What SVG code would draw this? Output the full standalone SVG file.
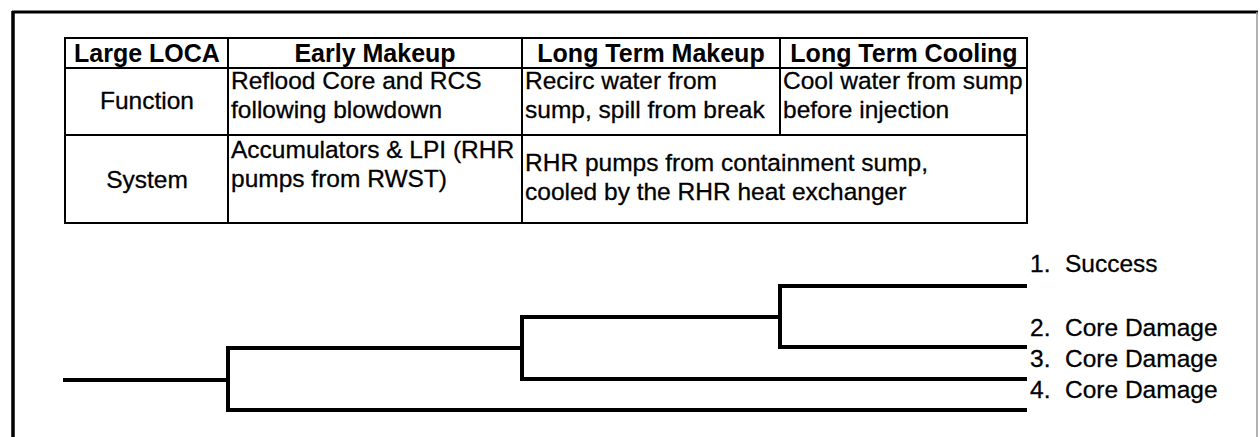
<svg xmlns="http://www.w3.org/2000/svg" width="1260" height="437" viewBox="0 0 1260 437">
<style>
.t{font-family:"Liberation Sans",Arial,sans-serif;font-size:24.5px;fill:#000;stroke:#000;stroke-width:0.3}
.h{font-family:"Liberation Sans",Arial,sans-serif;font-size:25px;font-weight:bold;fill:#000}
.c{text-anchor:middle}
.g{fill:none;stroke:#000;stroke-width:2}
.b{fill:none;stroke:#000;stroke-width:4;stroke-linecap:square}
</style>
<rect width="1260" height="437" fill="#fff"/>
<g id="frame">
<line x1="12" y1="12" x2="1258" y2="12" stroke="#000" stroke-width="3"/>
<line x1="13" y1="11" x2="13" y2="437" stroke="#000" stroke-width="3.5"/>
<line x1="1257" y1="12" x2="1257" y2="437" stroke="#999" stroke-width="1.5"/>
</g>
<g id="table">
<rect class="g" x="65" y="38" width="962" height="185"/>
<line class="g" x1="65" y1="68" x2="1027" y2="68" stroke-width="2.5"/>
<line class="g" x1="65" y1="135" x2="1027" y2="135"/>
<line class="g" x1="228" y1="38" x2="228" y2="223"/>
<line class="g" x1="522" y1="38" x2="522" y2="223"/>
<line class="g" x1="780" y1="38" x2="780" y2="135"/>
<text class="h c" x="147" y="62">Large LOCA</text>
<text class="h c" x="375" y="62">Early Makeup</text>
<text class="h c" x="651" y="62">Long Term Makeup</text>
<text class="h c" x="904" y="62">Long Term Cooling</text>
<text class="t c" x="147" y="109">Function</text>
<text class="t" x="231" y="89">Reflood Core and RCS</text>
<text class="t" x="231" y="118">following blowdown</text>
<text class="t" x="525" y="89">Recirc water from</text>
<text class="t" x="525" y="118">sump, spill from break</text>
<text class="t" x="783" y="89">Cool water from sump</text>
<text class="t" x="783" y="118">before injection</text>
<text class="t c" x="147" y="188">System</text>
<text class="t" x="231" y="158">Accumulators &amp; LPI (RHR</text>
<text class="t" x="231" y="187">pumps from RWST)</text>
<text class="t" x="525" y="171">RHR pumps from containment sump,</text>
<text class="t" x="525" y="200">cooled by the RHR heat exchanger</text>
</g>
<g id="connectors">
<path class="b" d="M65 380 H228" stroke-width="3.5"/>
<path class="b" d="M1025 410 H228 V348 H522"/>
<path class="b" d="M1025 379 H522 V317 H780"/>
<path class="b" d="M1025 347 H780 V286 H1025"/>
</g>
<g id="outcome1"><text class="t" y="272"><tspan x="1030">1.</tspan><tspan x="1065">Success</tspan></text></g>
<g id="outcome2"><text class="t" y="336"><tspan x="1030">2.</tspan><tspan x="1065">Core Damage</tspan></text></g>
<g id="outcome3"><text class="t" y="367"><tspan x="1030">3.</tspan><tspan x="1065">Core Damage</tspan></text></g>
<g id="outcome4"><text class="t" y="398"><tspan x="1030">4.</tspan><tspan x="1065">Core Damage</tspan></text></g>
</svg>
